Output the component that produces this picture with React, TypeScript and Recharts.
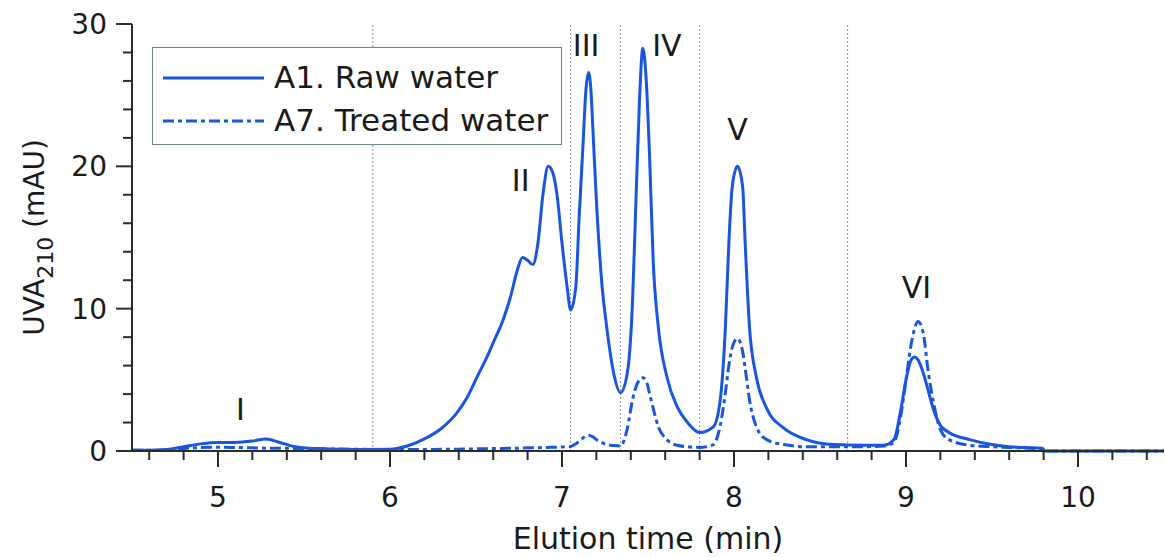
import {
  Legend,
  Line,
  LineChart,
  ReferenceDot,
  ReferenceLine,
  XAxis,
  YAxis,
} from "recharts";

// Elution time (min) shared by both traces.
const elutionTime = [
  4.5, 4.6, 4.7, 4.8, 4.9, 5.0, 5.1, 5.2, 5.28, 5.36, 5.45, 5.6, 5.8, 6.0, 6.1,
  6.2, 6.3, 6.39, 6.45, 6.51, 6.56, 6.6, 6.66, 6.7, 6.74, 6.77, 6.8, 6.83, 6.86,
  6.89, 6.92, 6.945, 6.97, 7.0, 7.03, 7.05, 7.08, 7.1, 7.12, 7.14, 7.155, 7.17,
  7.18, 7.2, 7.23, 7.26, 7.3, 7.34, 7.38, 7.41, 7.43, 7.45, 7.47, 7.49, 7.51,
  7.53, 7.56, 7.61, 7.67, 7.73, 7.8, 7.88, 7.92, 7.95, 7.97, 7.99, 8.02, 8.05,
  8.065, 8.09, 8.13, 8.19, 8.29, 8.42, 8.58, 8.75, 8.87, 8.93, 8.97, 9.0, 9.03,
  9.05, 9.07, 9.1, 9.13, 9.16, 9.2, 9.25, 9.37, 9.5, 9.6, 9.79, 9.81, 10.5,
];

// UVA210 (mAU), A1 raw water
const rawWater = [
  0.05, 0.05, 0.1, 0.3, 0.5, 0.6, 0.6, 0.7, 0.85, 0.6, 0.3, 0.15, 0.1, 0.12, 0.35,
  0.85, 1.6, 2.7, 3.8, 5.3, 6.5, 7.6, 9.3, 10.8, 12.7, 13.6, 13.4, 13.1, 14.6,
  18.1, 20.0, 19.6, 18.1, 14.6, 11.5, 9.9, 11.5, 16.5, 21.0, 25.5, 26.6, 25.0,
  22.5, 17.6, 12.0, 8.7, 5.5, 4.1, 5.5, 10.5, 17.6, 24.5, 28.3, 26.0, 20.4,
  13.4, 8.7, 5.2, 3.1, 2.0, 1.3, 1.7, 3.6, 8.7, 14.6, 18.6, 20.0, 18.6,
  14.6, 8.7, 5.2, 3.0, 1.6, 0.8, 0.45, 0.4, 0.4, 0.8, 2.9, 5.0, 6.4,
  6.6, 6.4, 5.5, 4.2, 2.9, 1.8, 1.3, 0.8, 0.45, 0.3, 0.2, 0.0, 0.0,
];

// UVA210 (mAU), A7 treated water
const treatedWater = [
  0.05, 0.05, 0.08, 0.18, 0.24, 0.26, 0.25, 0.22, 0.2, 0.2, 0.18, 0.15, 0.12, 0.1, 0.1,
  0.1, 0.12, 0.13, 0.14, 0.15, 0.16, 0.17, 0.18, 0.2, 0.2, 0.21, 0.22, 0.22, 0.23,
  0.24, 0.25, 0.26, 0.27, 0.28, 0.3, 0.32, 0.5, 0.7, 0.9, 1.05, 1.1, 1.05,
  1.0, 0.8, 0.6, 0.45, 0.38, 0.35, 1.6, 3.6, 4.5, 5.0, 5.15, 4.9, 4.0,
  3.0, 1.7, 0.8, 0.4, 0.3, 0.25, 0.45, 1.8, 4.1, 6.0, 7.3, 7.9, 7.0,
  5.8, 3.6, 1.7, 0.8, 0.45, 0.3, 0.3, 0.3, 0.35, 0.6, 2.5, 5.0, 7.5,
  8.6, 9.1, 8.3, 5.5, 3.4, 1.5, 0.8, 0.4, 0.3, 0.25, 0.15, 0.0, 0.0,
];

const timeTicks = [
  4.6, 4.8, 5, 5.2, 5.4, 5.6, 5.8, 6, 6.2, 6.4, 6.6, 6.8, 7, 7.2, 7.4, 7.6, 7.8,
  8, 8.2, 8.4, 8.6, 8.8, 9, 9.2, 9.4, 9.6, 9.8, 10, 10.2, 10.4,
];
const uvaTicks = [0, 2, 4, 6, 8, 10, 12, 14, 16, 18, 20, 22, 24, 26, 28, 30];

// Fraction boundaries (min) and peak names
const fractionBounds = [5.9, 7.05, 7.34, 7.8, 8.66];
const peakNames = ["I", "II", "III", "IV", "V", "VI"];
const peakNameTime = [5.13, 6.76, 7.14, 7.61, 8.02, 9.06];
const peakNameLevel = [2.9, 19.0, 28.5, 28.5, 22.6, 11.5];

const BLUE = "#1a56db";
const INK = "#1a1a1a";
const AXIS = "#2b2b2b";
const TREATED_DASH = "11 4 4 4";

const rows = elutionTime.map((t, i) => ({
  t,
  raw: rawWater[i],
  treated: treatedWater[i],
}));

const isWhole = (v: number) => Math.abs(v - Math.round(v)) < 1e-6;

function TimeTick({ x, y, payload }: any) {
  const major = isWhole(payload.value);
  return (
    <g>
      <line x1={x} x2={x} y1={y} y2={y + (major ? 16 : 9)} stroke={AXIS} strokeWidth={2} />
      {major && (
        <text x={x} y={y + 56} textAnchor="middle" fontSize={28} fill={INK}>
          {Math.round(payload.value)}
        </text>
      )}
    </g>
  );
}

function UvaTick({ x, y, payload }: any) {
  const major = payload.value % 10 === 0;
  return (
    <g>
      <line x1={x - (major ? 16 : 9)} x2={x} y1={y} y2={y} stroke={AXIS} strokeWidth={2} />
      {major && (
        <text x={x - 25} y={y + 10} textAnchor="end" fontSize={28} fill={INK}>
          {payload.value}
        </text>
      )}
    </g>
  );
}

function UvaTitle({ viewBox }: any) {
  const cx = 44;
  const cy = viewBox.y + viewBox.height / 2;
  return (
    <text
      transform={`translate(${cx}, ${cy}) rotate(-90)`}
      textAnchor="middle"
      fontSize={28}
      fill={INK}
    >
      UVA
      <tspan dy={9} fontSize={22}>
        210
      </tspan>
      <tspan dy={-9}> (mAU)</tspan>
    </text>
  );
}

function SampleKey({ payload }: any) {
  return (
    <div
      style={{
        width: 410,
        height: 98,
        boxSizing: "border-box",
        border: "1.5px solid #6e8589",
        background: "#fff",
        paddingTop: 8,
      }}
    >
      {(payload ?? []).map((entry: any) => (
        <div
          key={entry.dataKey}
          style={{ display: "flex", alignItems: "center", height: 43 }}
        >
          <svg width={121} height={12} style={{ flex: "none" }}>
            <line
              x1={10}
              x2={111}
              y1={6}
              y2={6}
              stroke={BLUE}
              strokeWidth={3}
              strokeDasharray={entry.dataKey === "treated" ? TREATED_DASH : undefined}
            />
          </svg>
          <span style={{ fontSize: 31, color: INK, lineHeight: "43px" }}>{entry.value}</span>
        </div>
      ))}
    </div>
  );
}

export default function App() {
  return (
    <div
      style={{
        position: "absolute",
        left: 0,
        top: 0,
        width: 1165,
        height: 557,
        background: "#fff",
        fontFamily: "'DejaVu Sans', sans-serif",
      }}
    >
      <LineChart
        width={1165}
        height={557}
        data={rows}
        margin={{ top: 24, right: 1, bottom: 0, left: 0 }}
      >
        <XAxis
          dataKey="t"
          type="number"
          domain={[4.5, 10.5]}
          ticks={timeTicks}
          interval={0}
          height={106}
          tickSize={0}
          tickMargin={0}
          tickLine={false}
          axisLine={{ stroke: AXIS, strokeWidth: 2 }}
          tick={<TimeTick />}
          label={{
            value: "Elution time (min)",
            position: "insideBottom",
            offset: 8,
            fontSize: 30,
            fill: INK,
          }}
        />
        <YAxis
          type="number"
          domain={[0, 30]}
          ticks={uvaTicks}
          interval={0}
          width={132}
          tickSize={0}
          tickMargin={0}
          tickLine={false}
          axisLine={{ stroke: AXIS, strokeWidth: 2 }}
          tick={<UvaTick />}
          label={{ content: <UvaTitle /> }}
        />
        {fractionBounds.map((b) => (
          <ReferenceLine
            key={b}
            x={b}
            stroke="#93a5ad"
            strokeWidth={1.2}
            strokeDasharray="2 2"
          />
        ))}
        <Legend
          layout="vertical"
          align="center"
          verticalAlign="middle"
          content={<SampleKey />}
          wrapperStyle={{ left: 152, top: 47, width: 410, height: 98 }}
        />
        <Line
          dataKey="raw"
          name="A1. Raw water"
          type="monotone"
          stroke={BLUE}
          strokeWidth={3}
          dot={false}
          activeDot={false}
          isAnimationActive={false}
        />
        <Line
          dataKey="treated"
          name="A7. Treated water"
          type="monotone"
          stroke={BLUE}
          strokeWidth={3}
          strokeDasharray={TREATED_DASH}
          dot={false}
          activeDot={false}
          isAnimationActive={false}
        />
        {peakNames.map((name, i) => (
          <ReferenceDot
            key={name}
            x={peakNameTime[i]}
            y={peakNameLevel[i]}
            r={0}
            fill="none"
            stroke="none"
            label={{ value: name, position: "center", fontSize: 30, fill: INK }}
          />
        ))}
      </LineChart>
    </div>
  );
}
